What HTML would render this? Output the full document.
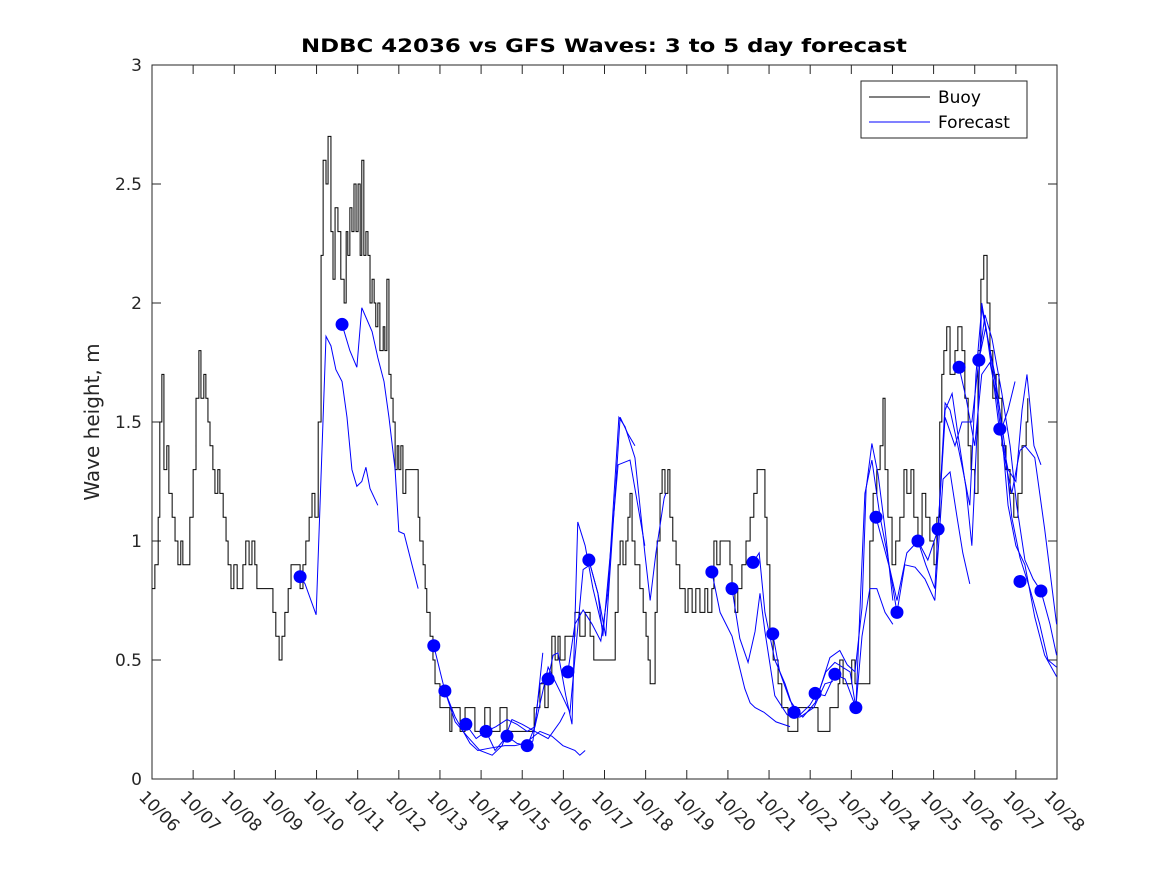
<!DOCTYPE html>
<html><head><meta charset="utf-8"><style>
body{margin:0;background:#fff;}
svg{display:block;font-family:"DejaVu Sans","Liberation Sans",sans-serif;}
</style></head><body>
<svg id="chart" width="1167" height="875" viewBox="0 0 1167 875">
<rect width="1167" height="875" fill="#fff"/>
<text x="604" y="52" text-anchor="middle" font-size="19" font-weight="bold" fill="#000" textLength="606" lengthAdjust="spacingAndGlyphs">NDBC 42036 vs GFS Waves: 3 to 5 day forecast</text>
<text transform="translate(99,422) rotate(-90)" text-anchor="middle" font-size="20" fill="#262626">Wave height, m</text>
<g id="plot"></g>
<g>
<rect x="861" y="81" width="166" height="57" fill="#fff" stroke="#262626" stroke-width="1"/>
<line x1="869" y1="97" x2="930" y2="97" stroke="#000" stroke-width="1"/>
<text x="938" y="103" font-size="17" fill="#000">Buoy</text>
<line x1="869" y1="122" x2="930" y2="122" stroke="#00f" stroke-width="1"/>
<text x="938" y="128" font-size="17" fill="#000">Forecast</text>
</g>
</svg>
<script>
const xLabels=["10/06","10/07","10/08","10/09","10/10","10/11","10/12","10/13","10/14","10/15","10/16","10/17","10/18","10/19","10/20","10/21","10/22","10/23","10/24","10/25","10/26","10/27","10/28"];
const yTicks=[0,0.5,1,1.5,2,2.5,3];
const yTickLabels=["0","0.5","1","1.5","2","2.5","3"];
const buoyDays=[0,0.07,0.15,0.19,0.24,0.29,0.36,0.41,0.49,0.56,0.63,0.70,0.75,0.88,0.92,1.00,1.07,1.14,1.19,1.26,1.31,1.36,1.41,1.48,1.53,1.60,1.65,1.73,1.80,1.85,1.92,1.99,2.07,2.21,2.28,2.36,2.43,2.50,2.55,2.87,2.94,3.01,3.09,3.16,3.23,3.31,3.38,3.52,3.60,3.67,3.74,3.82,3.89,3.96,4.04,4.11,4.16,4.23,4.28,4.35,4.40,4.45,4.52,4.59,4.67,4.72,4.76,4.81,4.86,4.91,4.96,5.01,5.06,5.10,5.15,5.20,5.25,5.30,5.35,5.40,5.44,5.49,5.54,5.62,5.66,5.71,5.76,5.81,5.86,5.91,5.96,6.00,6.05,6.10,6.17,6.39,6.47,6.51,6.59,6.64,6.68,6.76,6.83,6.88,7.00,7.24,7.29,7.49,7.61,7.85,8.09,8.22,8.46,8.63,8.95,9.29,9.43,9.55,9.63,9.72,9.80,9.87,9.92,10.04,10.16,10.28,10.40,10.53,10.65,10.74,11.18,11.26,11.33,11.38,11.45,11.52,11.57,11.62,11.67,11.74,11.86,11.94,12.01,12.06,12.11,12.18,12.23,12.28,12.35,12.40,12.47,12.54,12.59,12.66,12.74,12.83,12.96,13.03,13.13,13.22,13.32,13.44,13.51,13.61,13.66,13.73,13.81,13.98,14.05,14.10,14.17,14.24,14.34,14.44,14.54,14.63,14.71,14.83,14.90,14.95,15.02,15.10,15.22,15.31,15.46,15.70,15.95,16.19,16.48,16.60,16.68,16.72,16.80,16.92,17.01,17.09,17.36,17.45,17.53,17.62,17.70,17.77,17.82,17.89,17.99,18.08,18.18,18.28,18.35,18.45,18.52,18.62,18.72,18.81,18.91,19.01,19.08,19.15,19.20,19.25,19.32,19.40,19.52,19.59,19.69,19.76,19.84,19.91,20.00,20.08,20.15,20.22,20.30,20.37,20.44,20.52,20.59,20.66,20.76,20.86,20.95,21.05,21.15,21.25,21.29];
const buoyVals=[0.8,0.9,1.1,1.5,1.7,1.3,1.4,1.2,1.1,1.0,0.9,1.0,0.9,0.9,1.1,1.3,1.6,1.8,1.6,1.7,1.6,1.5,1.4,1.3,1.2,1.3,1.2,1.1,1.0,0.9,0.8,0.9,0.8,0.9,1.0,0.9,1.0,0.9,0.8,0.8,0.7,0.6,0.5,0.6,0.7,0.8,0.9,0.9,0.8,0.9,1.0,1.1,1.2,1.1,1.5,2.2,2.6,2.5,2.7,2.3,2.1,2.4,2.3,2.1,2.0,2.3,2.2,2.4,2.3,2.5,2.3,2.5,2.2,2.6,2.2,2.3,2.2,2.0,2.1,2.0,1.9,2.0,1.8,1.9,1.8,2.1,1.7,1.6,1.5,1.3,1.4,1.3,1.4,1.2,1.3,1.3,1.1,1.0,0.9,0.8,0.7,0.6,0.5,0.4,0.3,0.2,0.3,0.2,0.3,0.2,0.3,0.2,0.3,0.2,0.2,0.3,0.4,0.3,0.4,0.6,0.5,0.6,0.5,0.6,0.6,0.7,0.6,0.7,0.6,0.5,0.5,0.7,0.9,1.0,0.9,1.0,1.1,1.2,1.0,0.9,0.8,0.7,0.6,0.5,0.4,0.4,0.7,1.0,1.2,1.3,1.2,1.3,1.1,1.0,0.9,0.8,0.7,0.8,0.7,0.8,0.7,0.8,0.7,0.8,1.0,0.9,1.0,1.0,0.9,0.8,0.7,0.8,0.9,1.0,1.1,1.2,1.3,1.3,1.1,0.9,0.6,0.5,0.4,0.3,0.2,0.3,0.3,0.2,0.3,0.3,0.4,0.5,0.4,0.4,0.5,0.4,0.4,1.0,1.2,1.3,1.4,1.6,1.3,1.1,0.9,1.0,1.1,1.3,1.2,1.3,1.1,1.0,1.2,1.1,1.0,0.9,1.1,1.5,1.7,1.8,1.9,1.7,1.8,1.9,1.8,1.6,1.4,1.3,1.2,1.8,2.1,2.2,2.0,1.8,1.6,1.7,1.6,1.4,1.3,1.2,1.1,1.2,1.4,1.5,1.6];
const fcDays=[
[3.60,3.72,3.99,4.23,4.35,4.47,4.62,4.74,4.86,4.98,5.10,5.20,5.30,5.49],
[4.62,4.81,4.98,5.10,5.35,5.49,5.64,5.76,5.91,6.00,6.13,6.32,6.47],
[6.85,7.12,7.37,7.63,7.73,7.92,8.22,8.58,8.82,9.07,9.43,9.72,9.99,10.28,10.40,10.53],
[7.12,7.37,7.66,7.97,8.27,8.51,8.75,9.00,9.31,9.63,9.92,10.04],
[7.63,7.88,8.12,8.36,8.63,8.87,9.12,9.31,9.50],
[8.12,8.34,8.63,8.87,9.12,9.26,9.43,9.63,9.75,9.87,10.06,10.21,10.35,10.53,10.72,10.94],
[9.12,9.31,9.63,9.97,10.16,10.48,10.65,10.84,10.96,11.18,11.33,11.62,11.98],
[10.11,10.28,10.48,10.70,10.91,11.08,11.35,11.50,11.74,11.98,12.11,12.25,12.45,12.49],
[10.62,10.84,11.03,11.26,11.38,11.57,11.74],
[13.61,13.81,14.10,14.24,14.41,14.54,14.66,14.88,15.17,15.51],
[14.10,14.29,14.49,14.66,14.78,14.90,15.14,15.44,15.75,16.09,16.36,16.55],
[14.61,14.76,14.90,15.14,15.39,15.58,15.82,16.12,16.38,16.60,16.97,17.11],
[15.09,15.26,15.51,15.75,15.99,16.24,16.48,16.72,16.90,17.09,17.26,17.36,17.50,17.65,17.82,18.01],
[16.12,16.36,16.60,16.85,17.11,17.26,17.45,17.62,17.82,18.01],
[17.11,17.33,17.50,17.70,17.87,18.11,18.30,18.55,18.79,19.03,19.23,19.40,19.57,19.71,19.88],
[17.60,17.94,18.11,18.35,18.62,18.81,19.03,19.28,19.40,19.59,19.71,19.88,20.03,20.17,20.37,20.61,20.81,21.00,21.22,21.46,21.70,21.99],
[18.62,18.86,19.11,19.28,19.45,19.59,19.79,19.93,20.08,20.17,20.32,20.49,20.73,20.90,21.10,21.34,21.58,21.78,21.99],
[19.11,19.28,19.52,19.69,19.93,20.10,20.25,20.42,20.66,20.86,21.02,21.22,21.42,21.61,21.83,21.99],
[19.62,19.79,20.00,20.17,20.37,20.54,20.69,20.90,21.10,21.22,21.46,21.70,21.99],
[20.10,20.27,20.47,20.61,20.81,20.98],
[20.61,20.81,21.00,21.15,21.27,21.44,21.61]
];
const fcVals=[
[0.85,0.82,0.69,1.86,1.82,1.72,1.67,1.52,1.30,1.23,1.25,1.31,1.22,1.15],
[1.91,1.80,1.73,1.98,1.88,1.77,1.67,1.52,1.30,1.04,1.03,0.90,0.80],
[0.56,0.37,0.26,0.18,0.15,0.12,0.13,0.14,0.14,0.15,0.20,0.18,0.14,0.12,0.10,0.12],
[0.37,0.24,0.18,0.12,0.10,0.14,0.25,0.23,0.20,0.17,0.24,0.28],
[0.23,0.17,0.20,0.22,0.25,0.23,0.20,0.22,0.53],
[0.20,0.12,0.18,0.15,0.14,0.16,0.40,0.42,0.52,0.53,0.35,0.23,1.08,0.98,0.80,0.64],
[0.14,0.22,0.47,0.35,0.28,0.88,0.90,0.78,0.60,1.02,1.32,1.34,0.98],
[0.45,0.65,0.71,0.65,0.58,0.78,1.52,1.48,1.35,0.95,0.75,0.95,1.18,1.20],
[0.92,0.78,0.60,1.20,1.52,1.45,1.40],
[0.87,0.70,0.60,0.50,0.38,0.32,0.30,0.28,0.24,0.22],
[0.80,0.59,0.49,0.62,0.78,0.62,0.35,0.27,0.26,0.30,0.40,0.41],
[0.91,0.95,0.70,0.50,0.40,0.30,0.26,0.32,0.45,0.49,0.45,0.30],
[0.61,0.45,0.33,0.27,0.31,0.38,0.51,0.54,0.48,0.45,0.72,1.22,1.41,1.28,1.05,0.75],
[0.36,0.35,0.44,0.42,0.30,0.60,0.80,0.80,0.70,0.65],
[0.30,1.20,1.34,1.10,0.95,0.70,0.90,0.89,0.84,0.75,1.26,1.29,1.10,0.95,0.82],
[1.10,0.88,0.75,0.95,1.00,0.90,0.80,1.58,1.55,1.40,1.30,1.15,1.70,1.98,1.80,1.55,1.15,0.98,0.90,0.68,0.52,0.43],
[1.00,0.92,1.05,1.55,1.62,1.45,1.22,0.98,1.55,2.00,1.85,1.70,1.40,1.10,0.93,0.80,0.65,0.50,0.47],
[1.05,1.52,1.40,1.50,1.50,1.76,1.95,1.85,1.62,1.40,1.15,0.92,0.84,0.79,0.65,0.52],
[1.73,1.60,1.40,1.70,1.75,1.60,1.38,1.20,1.38,1.40,1.35,1.05,0.65],
[1.76,1.90,1.65,1.45,1.55,1.67],
[1.47,1.30,1.25,1.55,1.70,1.40,1.32]
];
const dotDays=[3.60,4.62,6.85,7.12,7.63,8.12,8.63,9.12,9.63,10.11,10.62,13.61,14.10,14.61,15.09,15.61,16.12,16.60,17.11,17.60,18.11,18.62,19.11,19.62,20.10,20.61,21.10,21.61];
const dotVals=[0.85,1.91,0.56,0.37,0.23,0.20,0.18,0.14,0.42,0.45,0.92,0.87,0.80,0.91,0.61,0.28,0.36,0.44,0.30,1.10,0.70,1.00,1.05,1.73,1.76,1.47,0.83,0.79];

const L=152,R=1057,T=65,B=779,xMax=22,yMax=3;
const xs=d=>L+(R-L)*d/xMax;
const ys=v=>B-(B-T)*v/yMax;
const NS="http://www.w3.org/2000/svg";
const plot=document.getElementById('plot');
function mk(tag,attrs,parent){const e=document.createElementNS(NS,tag);for(const k in attrs)e.setAttribute(k,attrs[k]);(parent||plot).appendChild(e);return e;}

const frame=mk('rect',{x:L,y:T,width:R-L,height:B-T,fill:'none',stroke:'#262626','stroke-width':1});



yTicks.forEach((v,i)=>{
  const y=ys(v);
  const t1=mk('line',{x1:L,y1:y,x2:L+9,y2:y,stroke:'#262626'});
  
  
  const t2=mk('line',{x1:R,y1:y,x2:R-9,y2:y,stroke:'#262626'});
  
  
  const tx=mk('text',{x:L-10,y:y+6,'text-anchor':'end','font-size':17,fill:'#262626'});
  tx.textContent=yTickLabels[i];
  
  
});
xLabels.forEach((lab,i)=>{
  const x=xs(i);
  const t1=mk('line',{x1:x,y1:B,x2:x,y2:B-9,stroke:'#262626'});
  
  
  const t2=mk('line',{x1:x,y1:T,x2:x,y2:T+9,stroke:'#262626'});
  
  
  const tx=mk('text',{transform:`translate(${x-14},${B+19}) rotate(45)`,'font-size':17,fill:'#262626'});
  tx.textContent=lab;
  
  
});

let d='M'+xs(buoyDays[0])+','+ys(buoyVals[0]);
for(let i=1;i<buoyDays.length;i++){d+=' L'+xs(buoyDays[i])+','+ys(buoyVals[i-1])+' L'+xs(buoyDays[i])+','+ys(buoyVals[i]);}
const bl=mk('path',{d:d,fill:'none',stroke:'#000','stroke-width':1});



fcDays.forEach((ds,k)=>{
  const p=ds.map((dd,i)=>xs(dd)+','+ys(fcVals[k][i])).join(' ');
  const pl=mk('polyline',{points:p,fill:'none',stroke:'#00f','stroke-width':1});
  
  
});
dotDays.forEach((dd,i)=>{
  const c=mk('circle',{cx:xs(dd),cy:ys(dotVals[i]),r:6.5,fill:'#00f'});
  
  
});
</script>
</body></html>
